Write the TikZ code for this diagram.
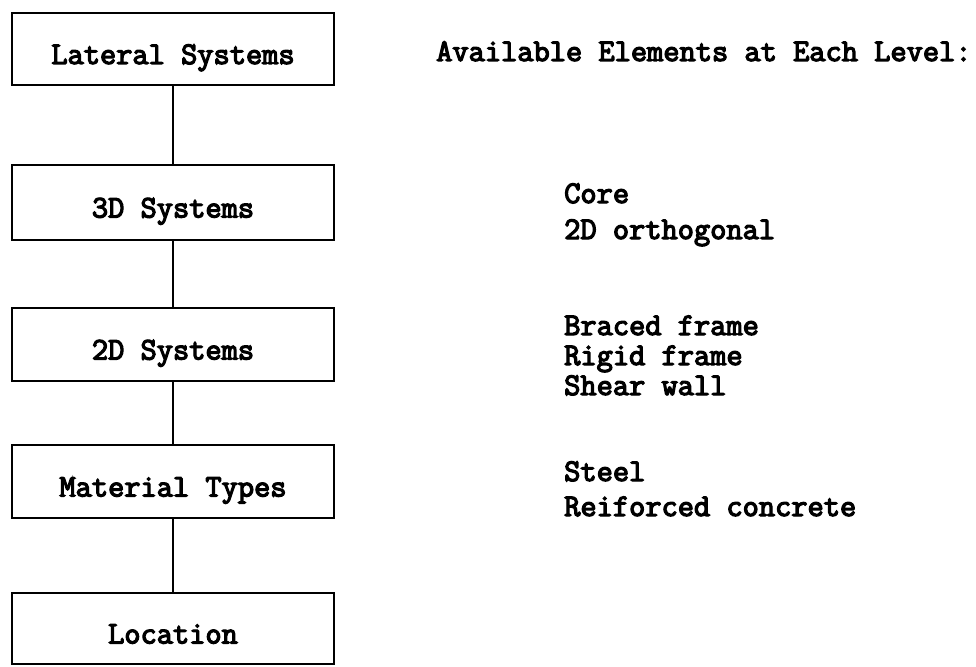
\documentclass[tikz,border=0pt]{standalone}
\usepackage{fontspec}
\newfontfamily\typew[FakeBold=4]{Latin Modern Mono}
\begin{document}
\begin{tikzpicture}[x=1pt,y=-1pt,
  every node/.style={font=\typew\fontsize{31.5}{33}\selectfont},
  levelbox/.style={draw, line width=2.7pt, minimum width=322pt, inner sep=0pt, text height=30pt, text depth=0pt},
  item/.style={anchor=base west, inner sep=0pt, text height=20pt, text depth=5pt},
  link/.style={line width=2.6pt}]
\useasboundingbox (0,0) rectangle (976,666);
\node[levelbox, minimum height=72pt] (b1) at (173,49) {Lateral Systems};
\node[levelbox, minimum height=75pt] (b2) at (173,202.5) {3D Systems};
\node[levelbox, minimum height=73pt] (b3) at (173,344.5) {2D Systems};
\node[levelbox, minimum height=73pt] (b4) at (173,481.5) {Material Types};
\node[levelbox, minimum height=71pt] (b5) at (173,628.5) {Location};
\draw[link] (b1) -- (b2);
\draw[link] (b2) -- (b3);
\draw[link] (b3) -- (b4);
\draw[link] (b4) -- (b5);
\node[item] (head) at (436,61) {Available Elements at Each Level:};
\node[item] (t1) at (564,203) {Core};
\node[item] (t2) at (564,239) {2D orthogonal};
\node[item] (t3) at (564,335) {Braced frame};
\node[item] (t4) at (564,365) {Rigid frame};
\node[item] (t5) at (564,395) {Shear wall};
\node[item] (t6) at (564,481) {Steel};
\node[item] (t7) at (564,516) {Reiforced concrete};
\end{tikzpicture}
\end{document}
